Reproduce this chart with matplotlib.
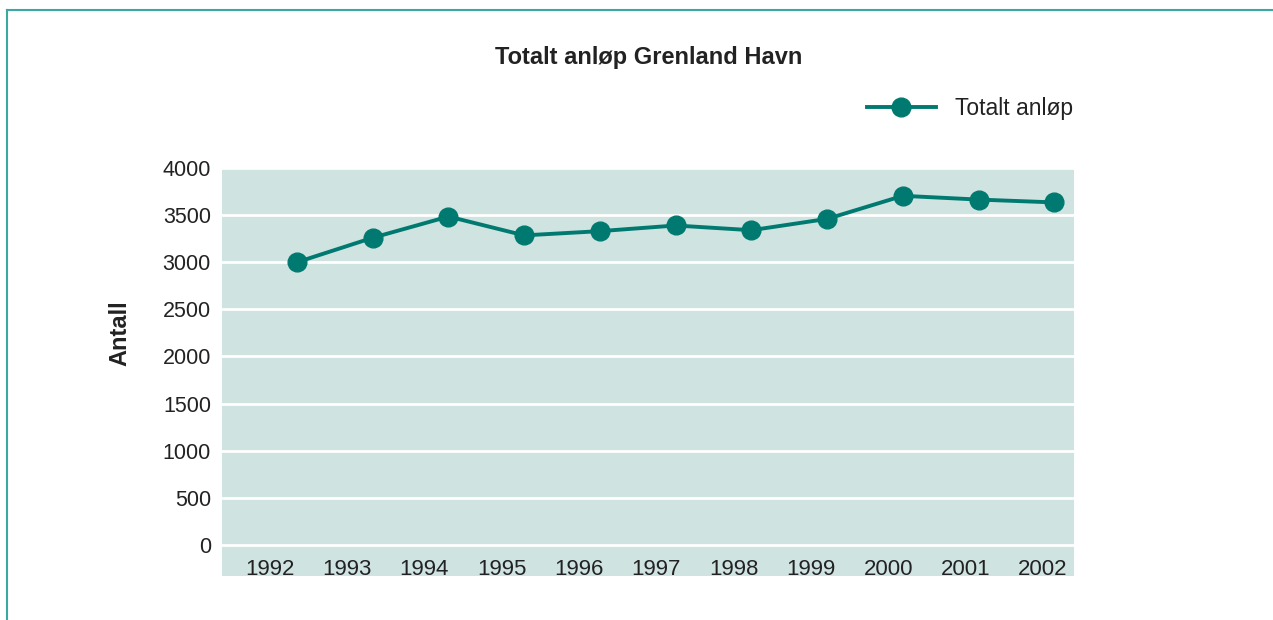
import matplotlib
matplotlib.use("Agg")
import matplotlib.pyplot as plt
import matplotlib.transforms as mtransforms

years = ["1992", "1993", "1994", "1995", "1996", "1997", "1998", "1999", "2000", "2001", "2002"]
totalt_anlop = [3000, 3260, 3485, 3285, 3330, 3390, 3340, 3460, 3705, 3665, 3635]
yticks = [0, 500, 1000, 1500, 2000, 2500, 3000, 3500, 4000]

title = "Totalt anløp Grenland Havn"
ylabel = "Antall"
series_name = "Totalt anløp"

teal = "#007A70"
bg = "#CFE3E1"
frame = "#3AA9A3"
txt = "#222222"

plt.rcParams["font.family"] = ["Liberation Sans", "DejaVu Sans"]

fig = plt.figure(figsize=(12.73, 6.2), dpi=100)
ax = fig.add_axes([0.1744, 0.071, 0.6693, 0.658])
ax.set_facecolor(bg)
for s in ax.spines.values():
    s.set_visible(False)

x = list(range(len(years)))
line, = ax.plot(x, totalt_anlop, color=teal, lw=2.8, marker="o", markersize=13.5,
                label=series_name, zorder=3)

ax.set_xlim(-0.99, 10.26)
ax.set_ylim(-330, 4000)
ax.set_yticks(yticks)
ax.set_yticklabels([str(v) for v in yticks], fontsize=15.5, color=txt)
ax.tick_params(axis="y", length=0, pad=8)
ax.set_xticks([])
ax.yaxis.grid(True, color="white", lw=2)
ax.set_axisbelow(True)

# year labels inside the plot area, below the zero line
trans = mtransforms.blended_transform_factory(ax.transData, ax.transAxes)
for xi, yr in zip(x, years):
    ax.text(xi * 1.021 - 0.36, 0.0417, yr, transform=trans, ha="center", va="top",
            fontsize=16, color=txt)

fig.text(0.5098, 0.908, title, ha="center", va="center", fontsize=17,
         fontweight="bold", color=txt)
fig.text(0.094, 0.462, ylabel, ha="center", va="center", rotation=90,
         fontsize=17, fontweight="bold", color=txt)

leg = fig.legend(handles=[line], loc="center left", bbox_to_anchor=(867 / 1273, 1 - 109 / 620),
                 frameon=False, fontsize=16.5, handlelength=3.0, handletextpad=0.83,
                 borderpad=0, borderaxespad=0)
for t in leg.get_texts():
    t.set_color(txt)

# outer frame lines (top and left)
fig.add_artist(plt.Line2D([7 / 1273, 1], [1 - 10 / 620, 1 - 10 / 620],
                          transform=fig.transFigure, color=frame, lw=1.5))
fig.add_artist(plt.Line2D([7 / 1273, 7 / 1273], [0, 1 - 10 / 620],
                          transform=fig.transFigure, color=frame, lw=1.5))

fig.savefig("out.png", dpi=100)
